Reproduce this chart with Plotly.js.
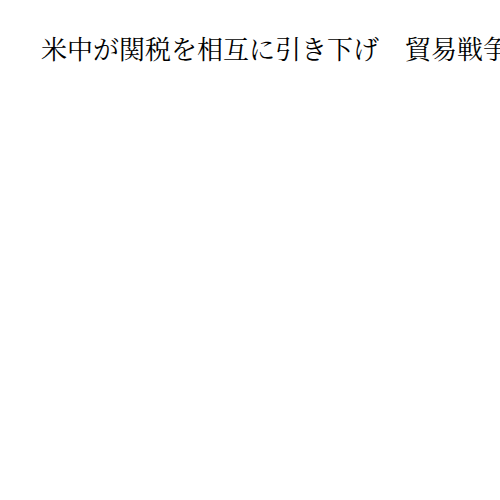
<!DOCTYPE html>
<html>
<head>
<meta charset="utf-8">
<script src="https://cdn.plot.ly/plotly-3.0.1.min.js"></script>
<style>
  html, body { margin: 0; padding: 0; background: #fff; }
  #chart { width: 500px; height: 500px; }
</style>
</head>
<body>
<div id="chart"></div>
<script>
// the reference shows only its title, no marks or axes
const titleText = '米中が関税を相互に引き下げ\u3000貿易戦争';
const xValues = [];
const yValues = [];

const traces = [{
  x: xValues,
  y: yValues,
  type: 'scatter',
  mode: 'lines',
  showlegend: false
}];

const layout = {
  width: 500,
  height: 500,
  paper_bgcolor: '#ffffff',
  plot_bgcolor: '#ffffff',
  margin: { l: 40, r: 20, t: 80, b: 40 },
  title: {
    text: titleText,
    xref: 'container',
    yref: 'container',
    x: 0.082,
    xanchor: 'left',
    y: 0.9,
    yanchor: 'middle',
    font: { family: '"Noto Serif CJK JP", "IPAMincho", serif', size: 26, color: '#000000' }
  },
  xaxis: { visible: false },
  yaxis: { visible: false }
};

Plotly.newPlot('chart', traces, layout, { displayModeBar: false, staticPlot: true });
</script>
</body>
</html>
